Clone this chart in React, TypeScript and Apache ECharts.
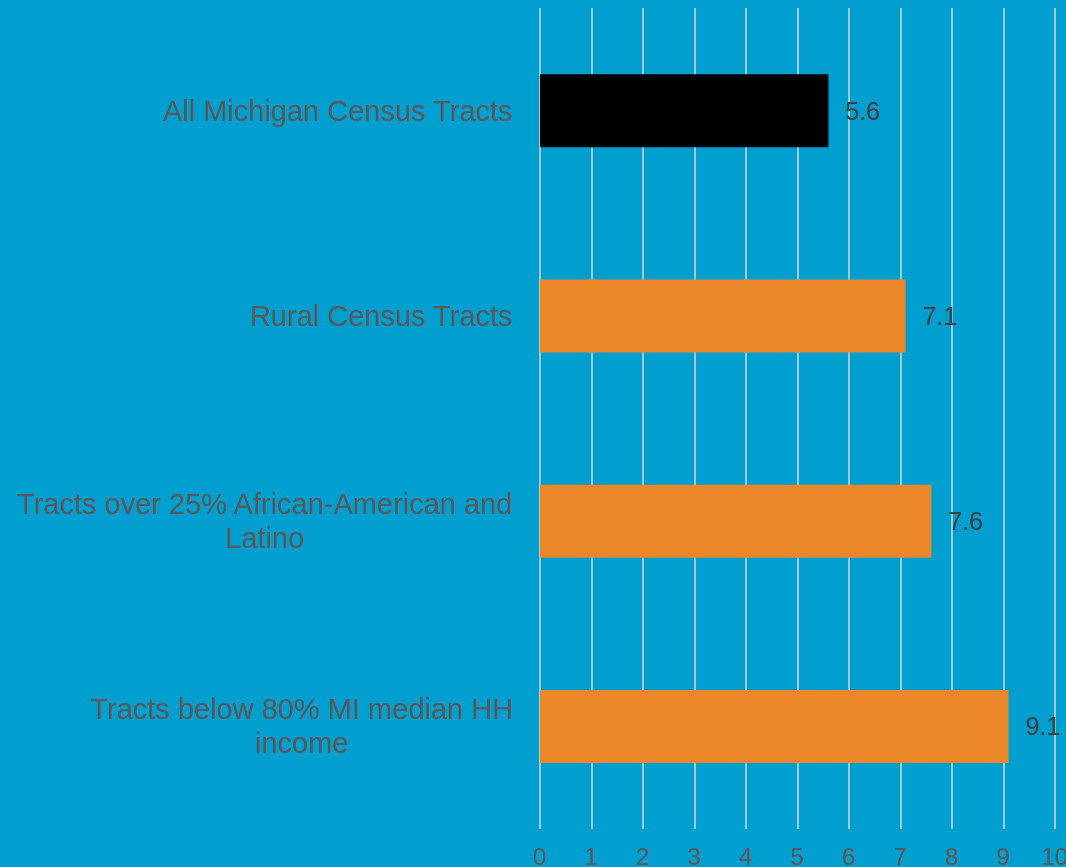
import React, { useEffect, useRef } from "react";
import * as echarts from "echarts";

const categories: string[][] = [
  ["All Michigan Census Tracts"],
  ["Rural Census Tracts"],
  ["Tracts over 25% African-American and", "Latino"],
  ["Tracts below 80% MI median HH", "income"],
];
const values: number[] = [5.6, 7.1, 7.6, 9.1];
const barColors: string[] = ["#000000", "#EC8729", "#EC8729", "#EC8729"];
const xTicks: number[] = [0, 1, 2, 3, 4, 5, 6, 7, 8, 9, 10];

const FONT = "'Liberation Sans', Arial, sans-serif";
const CAT_SIZE = 29;

function measure(text: string, size: number): number {
  const c = document.createElement("canvas");
  const ctx = c.getContext("2d");
  if (!ctx) return text.length * size * 0.5;
  ctx.font = `${size}px 'Liberation Sans', Arial, sans-serif`;
  return ctx.measureText(text).width;
}

export default function App() {
  const ref = useRef<HTMLDivElement>(null);
  useEffect(() => {
    if (!ref.current) return;
    const chart = echarts.init(ref.current, undefined, { renderer: "svg" });
    const rich: Record<string, any> = {};
    categories.forEach((lines, i) => {
      const w = Math.max(...lines.map((l) => measure(l, CAT_SIZE)));
      rich["c" + i] = {
        width: Math.ceil(w) + 1,
        align: "center",
        fontSize: CAT_SIZE,
        lineHeight: 34,
        color: "#595959",
        fontFamily: FONT,
      };
    });
    chart.setOption({
      animation: false,
      backgroundColor: "#019FD0",
      grid: {
        left: 540,
        right: 11,
        top: 8,
        bottom: 38,
        containLabel: false,
        outerBoundsMode: "none",
      },
      xAxis: {
        type: "value",
        min: xTicks[0],
        max: xTicks[xTicks.length - 1],
        interval: 1,
        axisLine: { show: false },
        axisTick: { show: false },
        splitLine: { show: true, lineStyle: { color: "#D9D9D9", width: 1.5 } },
        axisLabel: {
          margin: 16,
          fontSize: 24,
          lineHeight: 22,
          color: "#595959",
          fontFamily: FONT,
        },
      },
      yAxis: {
        type: "category",
        inverse: true,
        data: categories.map((c) => c.join("\n")),
        axisLine: { show: false },
        axisTick: { show: false },
        splitLine: { show: false },
        axisLabel: {
          margin: 26,
          formatter: (_v: string, idx: number) =>
            categories[idx].map((l) => `{c${idx}|${l}}`).join("\n"),
          rich,
        },
      },
      series: [
        {
          type: "bar",
          barWidth: 73,
          data: values.map((v, i) => ({ value: v, itemStyle: { color: barColors[i] } })),
          label: {
            show: true,
            position: "right",
            distance: 17,
            fontSize: 25,
            color: "#404040",
            fontFamily: FONT,
            formatter: (p: any) => p.value.toFixed(1),
          },
        },
      ],
    });
    return () => chart.dispose();
  }, []);
  return (
    <div
      ref={ref}
      style={{ position: "fixed", left: 0, top: 0, width: 1066, height: 867 }}
    />
  );
}
